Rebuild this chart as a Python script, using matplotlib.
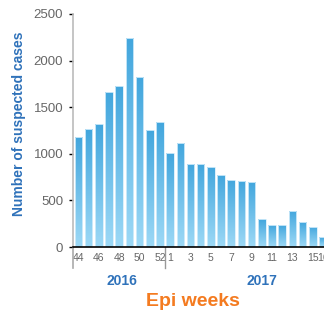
import numpy as np
import matplotlib
matplotlib.use("Agg")
import matplotlib.pyplot as plt
from matplotlib.colors import LinearSegmentedColormap
from matplotlib.transforms import blended_transform_factory

plt.rcParams['font.family'] = ['Liberation Sans', 'DejaVu Sans']

weeks = [44, 45, 46, 47, 48, 49, 50, 51, 52,
         1, 2, 3, 4, 5, 6, 7, 8, 9, 10, 11, 12, 13, 14, 15, 16]
cases = [1175, 1265, 1315, 1665, 1730, 2245, 1820, 1250, 1340,
         1005, 1120, 890, 890, 860, 770, 722, 708, 697, 297, 233, 233, 390, 268, 218, 104]
shown_labels = [44, 46, 48, 50, 52, 1, 3, 5, 7, 9, 11, 13, 15, 16]
years = ["2016", "2017"]

blue = "#2f72ba"
grey = "#666666"
grad = LinearSegmentedColormap.from_list("g", ["#9dd9f6", "#42a6dd"])

fig = plt.figure(figsize=(3.24, 3.16), dpi=100)
ax = fig.add_axes([73 / 324, 1 - 247 / 316, 1 - 73 / 324, (247 - 14) / 316])

x = np.arange(len(weeks))
bars = ax.bar(x, cases, width=0.74, color="none", edgecolor="#d6eefb", linewidth=0.6, zorder=3)
g = np.linspace(0, 1, 256).reshape(-1, 1)
for b in bars:
    im = ax.imshow(g, cmap=grad, origin="lower", aspect="auto",
                   extent=(b.get_x(), b.get_x() + b.get_width(), 0, b.get_height()), zorder=2)
    im.set_clip_path(b)

ax.set_xlim(-0.53, 24.1)
ax.set_ylim(0, 2500)
ax.set_yticks([0, 500, 1000, 1500, 2000, 2500])
ax.tick_params(axis="y", length=3, width=1, color="black", labelsize=9.5, labelcolor=grey, pad=4)
tick_pos = []
for i, w in enumerate(shown_labels):
    tick_pos.append(weeks.index(w) if i < 5 else 9 + w - 1)
ax.set_xticks(tick_pos)
ax.set_xticklabels(shown_labels)
ax.tick_params(axis="x", length=0, labelsize=7.5, labelcolor=grey, pad=4)

for s in ["top", "right"]:
    ax.spines[s].set_visible(False)
ax.spines["left"].set_color("#bbbbbb")
ax.spines["left"].set_linewidth(1.2)
ax.spines["bottom"].set_color("black")
ax.spines["bottom"].set_linewidth(1.2)
ax.spines["bottom"].set_zorder(5)

tr = blended_transform_factory(ax.transData, ax.transAxes)
ax.plot([-0.53, -0.53], [0, -0.09], transform=tr, color="#aaaaaa", lw=1.2, clip_on=False)
ax.plot([8.5, 8.5], [0, -0.09], transform=tr, color="#999999", lw=1, clip_on=False)

ax.text(4.3, -0.145, years[0], transform=tr, ha="center", va="center",
        fontsize=10, fontweight="bold", color=blue)
ax.text(18.0, -0.145, years[1], transform=tr, ha="center", va="center",
        fontsize=10, fontweight="bold", color=blue)
fig.text(193 / 324, 1 - 302 / 316, "Epi weeks", ha="center", va="center",
         fontsize=14, fontweight="bold", color="#f47b20")
fig.text(19 / 324, 1 - 124 / 316, "Number of suspected cases", rotation=90,
         ha="center", va="center", fontsize=10, fontweight="bold", color=blue)

fig.savefig("out.png", dpi=100)
